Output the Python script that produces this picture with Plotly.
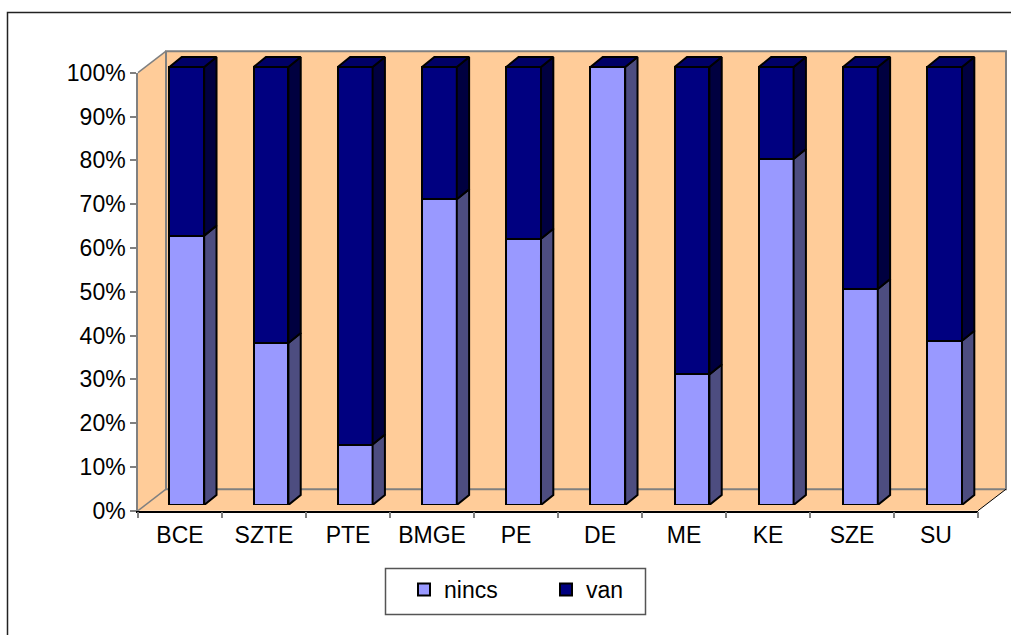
import plotly.graph_objects as go

W, H = 1011, 635

schools = ['BCE', 'SZTE', 'PTE', 'BMGE', 'PE', 'DE', 'ME', 'KE', 'SZE', 'SU']
nincs = [61.5, 37, 13.8, 69.8, 60.8, 100, 29.8, 79, 49.3, 37.5]
van = [38.5, 63, 86.2, 30.2, 39.2, 0, 70.2, 21, 50.7, 62.5]
y_ticks = list(range(0, 101, 10))
y_labels = [f'{t}%' for t in y_ticks]

NINCS_COL = '#9999FF'
VAN_COL = '#000080'
NINCS_SIDE = '#4D4D80'
VAN_SIDE = '#000040'
VAN_TOP = '#000066'
WALL = '#FFCC99'
GRAY = '#808080'
FONT = 'Liberation Sans, Arial, sans-serif'

# front plane of the fake 3D box, in pixels
X0, X1 = 138, 978
Y0, Y1 = 510.7, 72.7
# how far back the box goes, in pixels
WALL_DX, WALL_DY = 28, 21.5
# bars sit a bit behind the front plane
BAR_SHIFT_X, BAR_SHIFT_Y = 6.7, 5.7
BAR_STRETCH = 2
BAR_W = 34.7 / 84
BAR_DX = 12.3 / 84
BAR_DY = 10 / 4.38
# headroom on the bar axis so the top faces are not clipped
Y2_TOP = 106


def px(x):
    return x / W


def py(y):
    return 1 - y / H


def poly(points, **kw):
    path = 'M' + ' L'.join(f'{px(x)},{py(y)}' for x, y in points) + ' Z'
    return dict(type='path', xref='paper', yref='paper', layer='below', path=path, **kw)


def seg(x0, y0, x1, y1, color, width):
    return dict(type='line', xref='paper', yref='paper', layer='below', line=dict(color=color, width=width),
                x0=px(x0), y0=py(y0), x1=px(x1), y1=py(y1))


fig = go.Figure()

# gives the front category axis something to draw
fig.add_trace(go.Scatter(x=schools, y=[0] * len(schools), mode='none', xaxis='x', yaxis='y',
                         showlegend=False, hoverinfo='skip'))

line = dict(color='black', width=2)
fig.add_trace(go.Bar(x=list(range(len(schools))), y=nincs, name='nincs', marker_color=NINCS_COL,
                     marker_line=line, xaxis='x2', yaxis='y2'))
fig.add_trace(go.Bar(x=list(range(len(schools))), y=van, name='van', marker_color=VAN_COL,
                     marker_line=line, xaxis='x2', yaxis='y2'))


def face(xs, ys, color):
    fig.add_trace(go.Scatter(x=xs, y=ys, mode='lines', fill='toself', fillcolor=color,
                             line=dict(color='black', width=2), xaxis='x2', yaxis='y2',
                             cliponaxis=False, showlegend=False, hoverinfo='skip'))


# side and top faces of every bar, worked out from the values
for i in range(len(schools)):
    left = i - BAR_W / 2
    right = i + BAR_W / 2
    a, b = right, right + BAR_DX
    n = nincs[i]
    t = n + van[i]
    face([a, b, b, a, a], [0, BAR_DY, n + BAR_DY, n, 0], NINCS_SIDE)
    if van[i] > 0:
        face([a, b, b, a, a], [n, n + BAR_DY, t + BAR_DY, t, n], VAN_SIDE)
    face([left, right, b, left + BAR_DX, left], [t, t, t + BAR_DY, t + BAR_DY, t], VAN_TOP)

# box walls
bx0, bx1 = X0 + WALL_DX, X1 + WALL_DX
by0, by1 = Y0 - WALL_DY, Y1 - WALL_DY
shapes = [
    poly([(X0, Y0), (bx0, by0), (bx0, by1), (X0, Y1)], fillcolor=WALL, line=dict(width=0)),
    poly([(X0, Y0), (X1, Y0), (bx1, by0), (bx0, by0)], fillcolor=WALL, line=dict(width=0)),
    poly([(bx0, by0), (bx1, by0), (bx1, by1), (bx0, by1)], fillcolor=WALL, line=dict(color=GRAY, width=2)),
    seg(X0, Y1, bx0, by1, GRAY, 1.5),
    seg(X0, Y0, bx0, by0, GRAY, 1.5),
    seg(X1, Y0, bx1, by0, 'black', 1),
    # chart area border, only left and top fall inside the page
    dict(type='rect', xref='paper', yref='paper', layer='below', line=dict(color='#222222', width=1.5),
         x0=px(7.5), x1=px(1030), y0=py(650), y1=py(12.5)),
    # legend box
    dict(type='rect', xref='paper', yref='paper', layer='below', fillcolor='white',
         line=dict(color='#555555', width=1.5),
         x0=px(385.5), x1=px(645.5), y0=py(614.5), y1=py(568.5)),
]

lo, hi = -0.5, len(schools) - 0.5
bar_y0 = Y0 - BAR_SHIFT_Y
bar_y1 = bar_y0 - (Y0 - Y1) * Y2_TOP / 100
fig.update_layout(
    template='none',
    width=W,
    height=H,
    margin=dict(l=0, r=0, t=0, b=0),
    paper_bgcolor='white',
    plot_bgcolor='rgba(0,0,0,0)',
    font=dict(family=FONT, size=23, color='black'),
    barmode='stack',
    bargap=1 - BAR_W,
    shapes=shapes,
    showlegend=True,
    xaxis=dict(domain=[px(X0), px(X1)], type='category', categoryorder='array', categoryarray=schools,
               range=[lo, hi], tickson='boundaries', ticks='outside', ticklen=6, tickcolor=GRAY,
               tickwidth=1.5, showline=True, linecolor='black', linewidth=1.5, showgrid=False,
               zeroline=False, anchor='y', automargin=False, ticklabelstandoff=3),
    yaxis=dict(domain=[py(Y0), py(Y1)], range=[0, 100], tickvals=y_ticks, ticktext=y_labels,
               ticks='outside', ticklen=6, tickcolor=GRAY, tickwidth=1.5, showline=True,
               linecolor=GRAY, linewidth=1.5, showgrid=False, zeroline=False, anchor='x',
               automargin=False),
    xaxis2=dict(domain=[px(X0 + BAR_SHIFT_X), px(X1 + BAR_SHIFT_X + BAR_STRETCH)], range=[lo, hi], visible=False,
                anchor='y2', automargin=False),
    yaxis2=dict(domain=[py(bar_y0), py(bar_y1)], range=[0, Y2_TOP], visible=False,
                anchor='x2', automargin=False),
    legend=dict(orientation='h', x=px(404), y=py(568), xanchor='left', yanchor='top',
                entrywidth=97, entrywidthmode='pixels', bgcolor='rgba(0,0,0,0)',
                traceorder='normal'),
)

fig.write_html('out.html', config={'displayModeBar': False},
               post_script="document.body.style.margin='0';document.body.style.overflow='hidden';")
